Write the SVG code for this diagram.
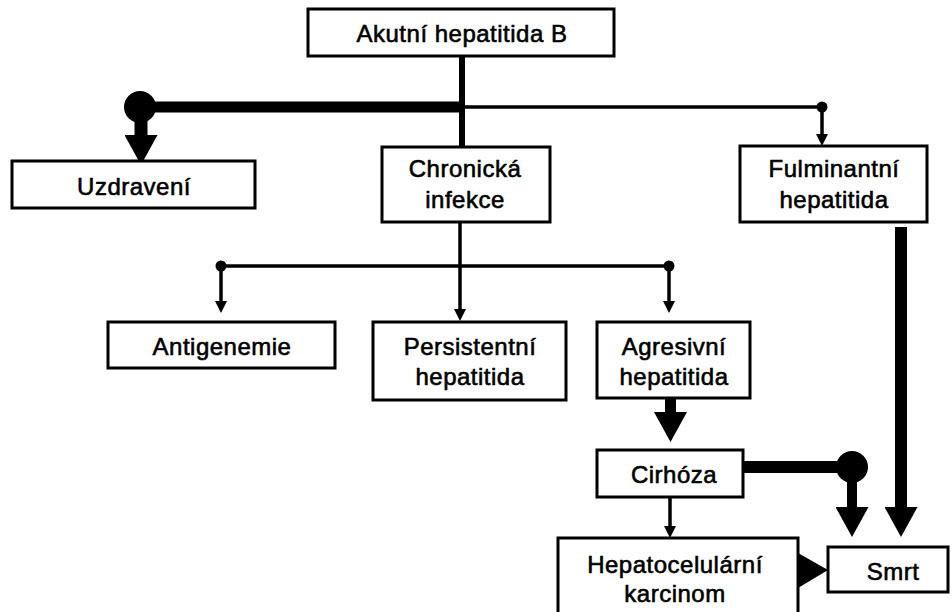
<svg xmlns="http://www.w3.org/2000/svg" width="952" height="612" viewBox="0 0 952 612">
<style>
.box{fill:#fff;stroke:#000;stroke-width:3}
.t{font-family:"Liberation Sans",Arial,sans-serif;font-weight:normal;font-size:24px;letter-spacing:0.5px;text-anchor:middle;fill:#000;stroke:#000;stroke-width:0.6px}
.thin{stroke:#000;stroke-width:3.5;fill:none}
.thick{stroke:#000;fill:none}
</style>
<defs>
<marker id="sm" markerUnits="userSpaceOnUse" viewBox="0 0 12 12" markerWidth="12" markerHeight="12" refX="5" refY="6" orient="auto">
<path d="M0,0 L12,6 L0,12 Z" fill="#000"/>
</marker>
<marker id="big" markerUnits="userSpaceOnUse" viewBox="0 0 30 33" markerWidth="30" markerHeight="33" refX="2" refY="16.5" orient="auto">
<path d="M0,0 L30,16.5 L0,33 Z" fill="#000"/>
</marker>
</defs>
<rect width="952" height="612" fill="#fff"/>
<g id="connectors">
<line class="thick" x1="462" y1="56" x2="462" y2="147" stroke-width="6"/>
<line class="thick" x1="140" y1="107" x2="462" y2="107" stroke-width="11"/>
<line class="thin" x1="462" y1="107" x2="822" y2="107" stroke-width="4"/>
<circle cx="140" cy="107" r="16" fill="#000"/>
<line class="thick" x1="141" y1="107" x2="141" y2="137" stroke-width="13" marker-end="url(#big)"/>
<circle cx="822" cy="107" r="5.5" fill="#000"/>
<line class="thin" x1="822" y1="107" x2="822" y2="139" marker-end="url(#sm)"/>
<line class="thin" x1="460" y1="222" x2="460" y2="314" marker-end="url(#sm)"/>
<line class="thin" x1="221" y1="266" x2="669" y2="266"/>
<circle cx="221" cy="266" r="5.5" fill="#000"/>
<line class="thin" x1="221" y1="266" x2="221" y2="306" marker-end="url(#sm)"/>
<circle cx="669" cy="266" r="5.5" fill="#000"/>
<line class="thin" x1="669" y1="266" x2="669" y2="306" marker-end="url(#sm)"/>
<line class="thick" x1="670.5" y1="398" x2="670.5" y2="414" stroke-width="11" marker-end="url(#big)"/>
<line class="thick" x1="743" y1="467" x2="852" y2="467" stroke-width="12"/>
<circle cx="852" cy="467" r="16" fill="#000"/>
<line class="thick" x1="852" y1="467" x2="852" y2="509" stroke-width="10" marker-end="url(#big)"/>
<line class="thick" x1="901" y1="227" x2="901" y2="509" stroke-width="12" marker-end="url(#big)"/>
<line class="thin" x1="670" y1="497" x2="670" y2="531" marker-end="url(#sm)"/>
<polygon points="798,553 828,570 798,588" fill="#000"/>
</g>
<g id="akutni">
<rect class="box" x="308" y="9" width="306" height="47"/>
<text class="t" x="462" y="42">Akutní hepatitida B</text>
</g>
<g id="uzdraveni">
<rect class="box" x="12" y="161" width="243" height="47"/>
<text class="t" x="134" y="195">Uzdravení</text>
</g>
<g id="chronicka">
<rect class="box" x="382" y="147" width="168" height="75"/>
<text class="t" x="465" y="177">Chronická</text>
<text class="t" x="465" y="208">infekce</text>
</g>
<g id="fulminantni">
<rect class="box" x="740" y="146" width="187" height="76"/>
<text class="t" x="834" y="177">Fulminantní</text>
<text class="t" x="834" y="208">hepatitida</text>
</g>
<g id="antigenemie">
<rect class="box" x="108" y="322" width="227" height="46"/>
<text class="t" x="222" y="355">Antigenemie</text>
</g>
<g id="persistentni">
<rect class="box" x="373" y="322" width="193" height="78"/>
<text class="t" x="470" y="355">Persistentní</text>
<text class="t" x="470" y="385">hepatitida</text>
</g>
<g id="agresivni">
<rect class="box" x="597" y="322" width="153" height="76"/>
<text class="t" x="674" y="355">Agresivní</text>
<text class="t" x="674" y="385">hepatitida</text>
</g>
<g id="cirhoza">
<rect class="box" x="597" y="450" width="146" height="47"/>
<text class="t" x="674" y="483">Cirhóza</text>
</g>
<g id="hepatocelularni">
<rect class="box" x="558" y="538" width="240" height="80"/>
<text class="t" x="675" y="573">Hepatocelulární</text>
<text class="t" x="675" y="602">karcinom</text>
</g>
<g id="smrt">
<rect class="box" x="828" y="547" width="120" height="45"/>
<text class="t" x="893" y="580">Smrt</text>
</g>
</svg>
